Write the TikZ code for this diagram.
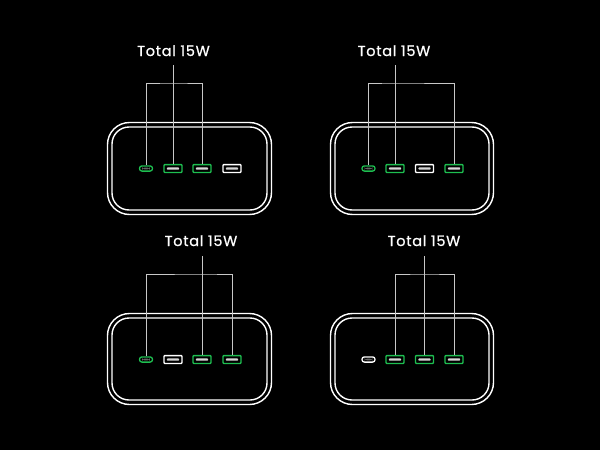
\documentclass[tikz,border=0pt]{standalone}
\usepackage{fontspec}
\setmainfont{Poppins}
\newfontfamily\lblfont[LetterSpace=5,FakeBold=0.8]{Poppins}
\definecolor{portgreen}{RGB}{30,190,80}
\definecolor{bargray}{RGB}{215,215,215}
\definecolor{slotgray}{RGB}{100,100,100}
\definecolor{wiregray}{RGB}{200,200,200}
\begin{document}
\begin{tikzpicture}[x=1pt,y=-1pt,
  usba/.style={draw=#1, line width=1.3pt, rounded corners=0.8pt, minimum width=18pt, minimum height=7.8pt, inner sep=0pt,
    path picture={\fill[bargray] ([xshift=-6.2pt,yshift=-1.1pt]path picture bounding box.center) rectangle ([xshift=6.2pt,yshift=1.1pt]path picture bounding box.center);}},
  usbc/.style={draw=#1, line width=1.3pt, rounded corners=2.4pt, minimum width=13pt, minimum height=5.2pt, inner sep=0pt,
    path picture={\fill[slotgray] ([xshift=-3.8pt,yshift=-0.8pt]path picture bounding box.center) rectangle ([xshift=3.8pt,yshift=0.8pt]path picture bounding box.center);}},
  wire/.style={draw=wiregray, line width=0.9pt},
  shell/.style={draw=white, line width=1.4pt},
  lbl/.style={text=white, font=\lblfont\fontsize{14.5}{17}\selectfont, inner sep=0pt, anchor=base},
]
\fill[black] (0,0) rectangle (600,450);
\useasboundingbox (0,0) rectangle (600,450);

% ---------- Panel 1 ----------
\draw[shell, rounded corners=22pt] (107.5,122.5) rectangle (271.5,214.5);
\draw[shell, rounded corners=17pt] (112,127) rectangle (267,210);
\node[usbc=portgreen] (p1c) at (146,168.5) {};
\node[usba=portgreen] (p1a) at (173,168.5) {};
\node[usba=portgreen] (p1b) at (202,168.5) {};
\node[usba=white] (p1d) at (232,168.5) {};
\node[lbl] (l1) at (173.5,56) {Total 15W};
\coordinate (t1) at (173,83);
\draw[wire] (p1c.north) |- (t1) -| (p1b.north);
\draw[wire] ([yshift=-9pt]l1.base -| p1a.north) -- (p1a.north);

% ---------- Panel 2 ----------
\draw[shell, rounded corners=22pt] (330.5,122.5) rectangle (493.5,214.5);
\draw[shell, rounded corners=17pt] (335,127) rectangle (489,210);
\node[usbc=portgreen] (p2c) at (368.5,168.5) {};
\node[usba=portgreen] (p2a) at (395,168.5) {};
\node[usba=white] (p2b) at (424.5,168.5) {};
\node[usba=portgreen] (p2d) at (454,168.5) {};
\node[lbl] (l2) at (394,56) {Total 15W};
\coordinate (t2) at (395,83);
\draw[wire] (p2c.north) |- (t2) -| (p2d.north);
\draw[wire] ([yshift=-9pt]l2.base -| p2a.north) -- (p2a.north);

% ---------- Panel 3 ----------
\draw[shell, rounded corners=22pt] (107.5,313.5) rectangle (271.5,404.5);
\draw[shell, rounded corners=17pt] (112,318) rectangle (267,400);
\node[usbc=portgreen] (p3c) at (146,359.5) {};
\node[usba=white] (p3a) at (173,359.5) {};
\node[usba=portgreen] (p3b) at (202,359.5) {};
\node[usba=portgreen] (p3d) at (232,359.5) {};
\node[lbl] (l3) at (201,246) {Total 15W};
\coordinate (t3) at (202,274);
\draw[wire] (p3c.north) |- (t3) -| (p3d.north);
\draw[wire] ([yshift=-10pt]l3.base -| p3b.north) -- (p3b.north);

% ---------- Panel 4 ----------
\draw[shell, rounded corners=22pt] (330.5,313.5) rectangle (493.5,404.5);
\draw[shell, rounded corners=17pt] (335,318) rectangle (489,400);
\node[usbc=white] (p4c) at (368.5,359.5) {};
\node[usba=portgreen] (p4a) at (395,359.5) {};
\node[usba=portgreen] (p4b) at (424.5,359.5) {};
\node[usba=portgreen] (p4d) at (454,359.5) {};
\node[lbl] (l4) at (424,246) {Total 15W};
\coordinate (t4) at (424.5,274);
\draw[wire] (p4a.north) |- (t4) -| (p4d.north);
\draw[wire] ([yshift=-10pt]l4.base -| p4b.north) -- (p4b.north);
\end{tikzpicture}
\end{document}
